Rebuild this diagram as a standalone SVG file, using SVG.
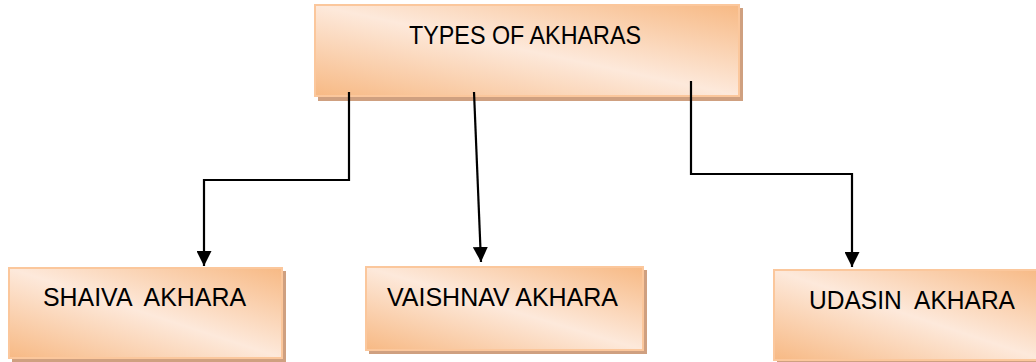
<svg xmlns="http://www.w3.org/2000/svg" width="1036" height="362" viewBox="0 0 1036 362">
<defs>
<linearGradient id="g" x1="0" y1="1" x2="1" y2="0">
<stop offset="0" stop-color="#f7b984"/>
<stop offset="0.5" stop-color="#fde9db"/>
<stop offset="1" stop-color="#f7b984"/>
</linearGradient>
<marker id="arr" markerUnits="userSpaceOnUse" markerWidth="15" markerHeight="15" viewBox="0 0 15 15" refX="15" refY="7.5" orient="auto">
<path d="M0,0 L15,7.5 L0,15 z" fill="#000"/>
</marker>
</defs>
<style>
.shadow{fill:#cfa080}
.box{fill:url(#g);stroke:#fbc79c;stroke-width:2}
.lbl{font-family:"Liberation Sans",Arial,sans-serif;font-size:25px;fill:#000;white-space:pre}
.conn{fill:none;stroke:#000;stroke-width:2.2;marker-end:url(#arr)}
</style>
<rect width="1036" height="362" fill="#fff"/>
<g id="types">
<rect class="shadow" x="318" y="8" width="425" height="93"/>
<rect class="box" x="315" y="5" width="424" height="91"/>
<text class="lbl" x="409" y="44" textLength="232" lengthAdjust="spacingAndGlyphs">TYPES OF AKHARAS</text>
</g>
<g id="shaiva">
<rect class="shadow" x="12" y="271" width="274" height="91"/>
<rect class="box" x="9" y="268" width="273" height="90"/>
<text class="lbl" x="43" y="306" textLength="203" lengthAdjust="spacingAndGlyphs" xml:space="preserve">SHAIVA  AKHARA</text>
</g>
<g id="vaishnav">
<rect class="shadow" x="369" y="270" width="278" height="84"/>
<rect class="box" x="366" y="267" width="277" height="83"/>
<text class="lbl" x="387" y="306" textLength="231" lengthAdjust="spacingAndGlyphs">VAISHNAV AKHARA</text>
</g>
<g id="udasin">
<rect class="shadow" x="777" y="273" width="270" height="92"/>
<rect class="box" x="774" y="270" width="270" height="90"/>
<text class="lbl" x="809" y="309" textLength="206" lengthAdjust="spacingAndGlyphs" xml:space="preserve">UDASIN  AKHARA</text>
</g>
<g id="connectors">
<path class="conn" d="M349,92 V180 H204 V266"/>
<path class="conn" d="M474,92 L481,262"/>
<path class="conn" d="M691,81 V174 H852 V267"/>
</g>
</svg>
